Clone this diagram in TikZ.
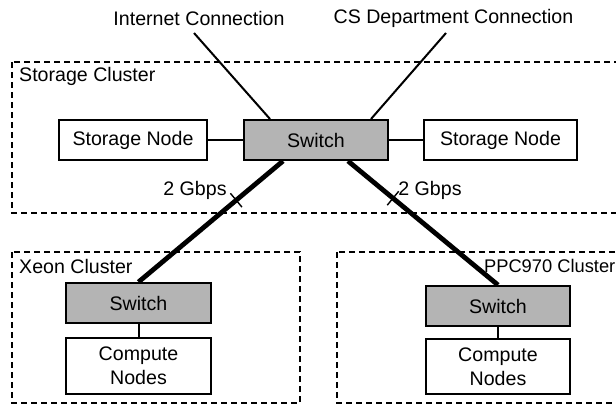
\documentclass[tikz,border=0pt]{standalone}
\usepackage{fontspec}
\setmainfont{Liberation Sans}
\usetikzlibrary{calc}
\definecolor{swgray}{HTML}{B4B4B4}
\begin{document}
\begin{tikzpicture}[x=1pt,y=-1pt,
  box/.style={draw, line width=2pt, minimum height=40pt, inner sep=0pt,
    font=\fontsize{19.6}{24}\selectfont, align=center},
  swbox/.style={box, fill=swgray},
  cluster/.style={draw, line width=1.1pt, dash pattern=on 6pt off 4pt},
  lbl/.style={font=\fontsize{19.6}{23}\selectfont, inner sep=0pt},
  wire/.style={line width=2pt},
  trunk/.style={line width=4.8pt},
  tickmark/.style={line width=1.4pt}
  ]
\useasboundingbox (0,0) rectangle (616,405);
\clip (0,0) rectangle (616,405);
\fill[white] (0,0) rectangle (616,405);

% clusters
\draw[cluster] (12,62) rectangle (630,213);
\draw[cluster] (12,252) rectangle (300,403);
\draw[cluster] (337,252) rectangle (630,403);
\node[lbl, anchor=west] (lsc) at (19,76) {Storage Cluster};
\node[lbl, anchor=west] (lxc) at (19,266) {Xeon Cluster};
\node[lbl, anchor=east, font=\fontsize{18.3}{22}\selectfont] (lpc) at (615.5,266) {PPC970 Cluster};

% top labels
\node[lbl] (linet) at (199,18) {Internet Connection};
\node[lbl] (lcs) at (453.5,18) {CS Department Connection};
\coordinate (inet) at (194,33);
\coordinate (csd) at (446,33);

% storage cluster nodes
\node[box, minimum width=148pt] (sn1) at (133,140) {Storage Node};
\node[swbox, minimum width=144pt] (sw0) at (316,140) {Switch};
\node[box, minimum width=153pt] (sn2) at (500.5,140) {Storage Node};

% Xeon
\node[swbox, minimum width=145pt] (xsw) at (138.5,303) {Switch};
\node[box, minimum width=145pt, minimum height=56pt] (xcn) at (138.5,366) {Compute\\Nodes};
% PPC
\node[swbox, minimum width=144pt] (psw) at (498,306) {Switch};
\node[box, minimum width=144pt, minimum height=55pt] (pcn) at (498,366.5) {Compute\\Nodes};

% connectors
\draw[wire] (sn1) -- (sw0);
\draw[wire] (sw0) -- (sn2);
\draw[wire] (xsw) -- (xcn);
\draw[wire] (psw) -- (pcn);
\draw[wire] (inet) -- ($(sw0.north)+(-46,0)$);
\draw[wire] (csd) -- ($(sw0.north)+(55,0)$);

\draw[trunk] ($(sw0.south)+(-33,0)$) -- (xsw.north) coordinate[pos=0.324] (t1);
\draw[trunk] ($(sw0.south)+(32,0)$) -- (psw.north) coordinate[pos=0.30] (t2);
\draw[tickmark] ($(t1)!9pt!90:(xsw.north)$) -- ($(t1)!9pt!-90:(xsw.north)$);
\draw[tickmark] ($(t2)!9pt!90:(psw.north)$) -- ($(t2)!9pt!-90:(psw.north)$);
\node[lbl] (g1) at (195,190) {2 Gbps};
\node[lbl] (g2) at (430,190) {2 Gbps};
\end{tikzpicture}
\end{document}
